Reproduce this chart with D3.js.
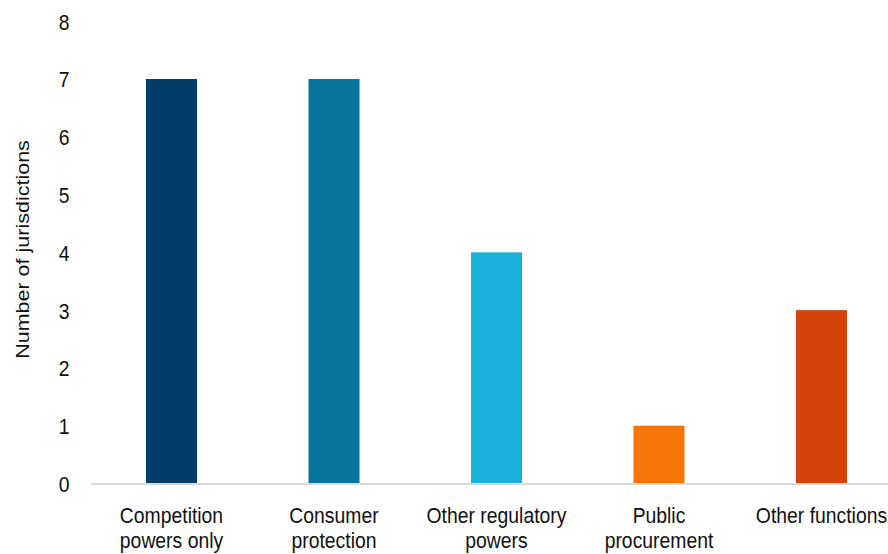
<!DOCTYPE html>
<html>
<head>
<meta charset="utf-8">
<script src="https://cdn.jsdelivr.net/npm/d3@7"></script>
<style>
  html, body { margin: 0; padding: 0; background: #fff; }
  svg { display: block; }
  text { font-family: "Liberation Sans", Arial, Helvetica, sans-serif; fill: #111; }
</style>
</head>
<body>
<svg id="chart" width="888" height="554"></svg>
<script>
// Functions held by competition authorities
const categories = [
  ["Competition", "powers only"],
  ["Consumer", "protection"],
  ["Other regulatory", "powers"],
  ["Public", "procurement"],
  ["Other functions"]
];
const values = [7, 7, 4, 1, 3];
const colors = ["#043d68", "#07749c", "#19b1d9", "#f77406", "#d5430a"];
const yTicks = [0, 1, 2, 3, 4, 5, 6, 7, 8];
const yTitle = "Number of jurisdictions";

const width = 888, height = 554;
const sx = 0.88;               // horizontal compression of the whole drawing
const innerW = width / sx;

const svg = d3.select("#chart");
const g = svg.append("g").attr("transform", `scale(${sx},1)`);

const keys = categories.map(c => c.join(" "));

const x = d3.scaleBand()
  .domain(keys)
  .range([90.25 / sx, 902.75 / sx])
  .paddingInner(0.686)
  .paddingOuter(0.343);

const y = d3.scaleLinear()
  .domain([0, 8])
  .range([483.5, 21.2]);

// bars
g.selectAll("rect.bar")
  .data(values)
  .join("rect")
  .attr("class", "bar")
  .attr("x", (d, i) => x(keys[i]))
  .attr("width", x.bandwidth())
  .attr("y", d => y(d))
  .attr("height", d => y(0) - y(d))
  .attr("fill", (d, i) => colors[i]);

// baseline
g.append("line")
  .attr("x1", 91 / sx).attr("x2", innerW)
  .attr("y1", y(0) + 0.5).attr("y2", y(0) + 0.5)
  .attr("stroke", "#d9d9d9")
  .attr("stroke-width", 2);

// y axis (labels only)
const yAxis = g.append("g")
  .attr("transform", `translate(${69.5 / sx},0)`)
  .call(d3.axisLeft(y).tickValues(yTicks).tickSize(0).tickPadding(0).tickFormat(d3.format("d")));
yAxis.select(".domain").remove();
yAxis.selectAll("text")
  .attr("font-size", 22)
  .attr("dy", "0.36em")
  .style("font-family", "\"Liberation Sans\", Arial, sans-serif")
  .attr("fill", "#111");

// category labels
const lab = g.selectAll("text.cat")
  .data(categories)
  .join("text")
  .attr("class", "cat")
  .attr("text-anchor", "middle")
  .attr("font-size", 22)
  .attr("x", (d, i) => x(keys[i]) + x.bandwidth() / 2)
  .attr("y", 523);
lab.selectAll("tspan")
  .data(d => d)
  .join("tspan")
  .attr("x", function () { return d3.select(this.parentNode).attr("x"); })
  .attr("dy", (d, i) => i === 0 ? 0 : 25)
  .text(d => d);

// y axis title
g.append("text")
  .attr("transform", `translate(${28.5 / sx},249.5) rotate(-90)`)
  .attr("text-anchor", "middle")
  .attr("font-size", 21.5)
  .text(yTitle);
</script>
</body>
</html>
